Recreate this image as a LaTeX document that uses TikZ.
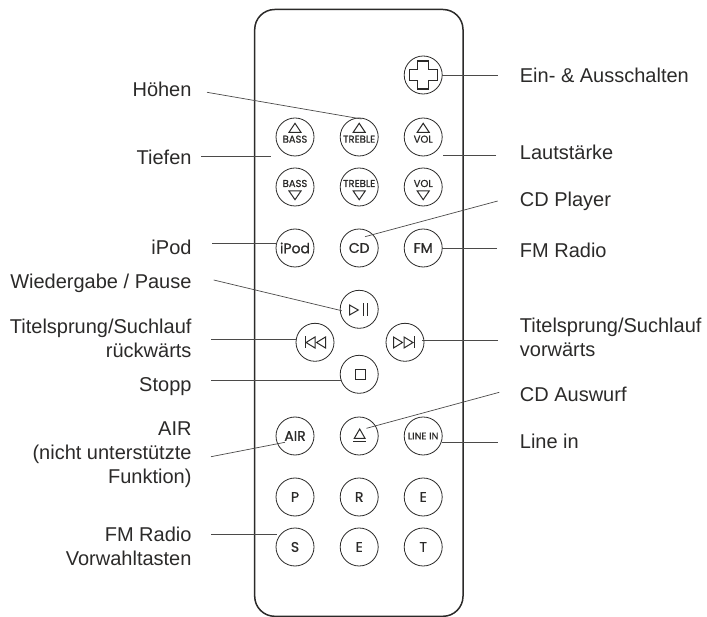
\documentclass[tikz,border=0pt]{standalone}
\usepackage{fontspec}
\setmainfont{Liberation Sans}
\newfontfamily\btnfont[FakeBold=0.8]{Poppins}
\usetikzlibrary{calc}
\definecolor{ink}{HTML}{2B2A29}
\tikzset{
  body/.style={draw=ink,line width=1.5pt,rounded corners=20pt},
  btn/.style={circle,draw=ink,line width=0.8pt,minimum size=38pt,inner sep=0pt,font=\btnfont\fontsize{14}{15}\selectfont,text=ink,align=center},
  smallbtn/.style={btn,font=\btnfont\fontsize{9.8}{10}\selectfont},
  btncap/.style={font=\btnfont\fontsize{10}{10}\selectfont,text=ink,inner sep=0pt,anchor=base},
  lbl/.style={font=\fontsize{20}{24}\selectfont,text=ink,inner sep=0pt,yshift=-2.5pt},
  lblr/.style={lbl,align=right,anchor=north east},
  lbll/.style={lbl,align=left,anchor=north west},
  lead/.style={draw=ink!85,line width=0.7pt},
  icon/.style={draw=ink,line width=1pt,line join=miter}
}
\begin{document}
\begin{tikzpicture}[x=1pt,y=-1pt]
\useasboundingbox (0,0) rectangle (707,617);
\draw[body] (254.7,9.5) rectangle (463,616.3);
% buttons
\node[btn] (power) at (423.2,75) {};
\node[btn] (bassup) at (295,137) {};
\node[btn] (trebup) at (359.2,137) {};
\node[btn] (volup) at (423.2,137) {};
\node[btn] (bassdn) at (295,187) {};
\node[btn] (trebdn) at (359.2,187) {};
\node[btn] (voldn) at (423.2,187) {};
\node[btn] (ipod) at (295,248) {iPod};
\node[btn] (cd) at (359.2,248) {CD};
\node[btn] (fm) at (423.2,248) {FM};
\node[btn] (play) at (359.2,309.3) {};
\node[btn] (prev) at (315,342.3) {};
\node[btn] (next) at (405,342.3) {};
\node[btn] (stop) at (359.2,374.3) {};
\node[btn] (air) at (295,436) {AIR};
\node[btn] (eject) at (359.2,436) {};
\node[smallbtn] (linein) at (423.2,436) {LINE IN};
\node[btn] (p) at (295,497) {P};
\node[btn] (r) at (359.2,497) {R};
\node[btn] (e) at (423.2,497) {E};
\node[btn] (s) at (295,547) {S};
\node[btn] (e2) at (359.2,547) {E};
\node[btn] (t) at (423.2,547) {T};
% button texts with triangles
\foreach \n/\t in {bassup/BASS,trebup/TREBLE,volup/VOL}{
  \node[btncap] at ($(\n)+(0,5.7)$) {\t};
  \draw[icon] ($(\n)+(-6,-4.7)$) -- ($(\n)+(6,-4.7)$) -- ($(\n)+(0,-13.7)$) -- cycle;
}
\foreach \n/\t in {bassdn/BASS,trebdn/TREBLE,voldn/VOL}{
  \node[btncap] at ($(\n)+(0,0)$) {\t};
  \draw[icon] ($(\n)+(-6,4)$) -- ($(\n)+(6,4)$) -- ($(\n)+(0,12.7)$) -- cycle;
}
% icons
\draw[icon,line width=1.1pt] ($(power)+(-14,-5.3)$) -- ++(8.7,0) -- ++(0,-8.7) -- ++(10.6,0) -- ++(0,8.7) -- ++(8.7,0) -- ++(0,10.6) -- ++(-8.7,0) -- ++(0,8.7) -- ++(-10.6,0) -- ++(0,-8.7) -- ++(-8.7,0) -- cycle;
\draw[icon] (349.5,305) -- (349.5,315) -- (358.3,310) -- cycle;
\draw[icon] (363.3,303.5) -- (363.3,315.7) (367.3,303.5) -- (367.3,315.7);
\draw[icon] (305,336.5) -- (305,348.5);
\draw[icon] (315,337) -- (315,348) -- (306,342.5) -- cycle;
\draw[icon] (325.5,337) -- (325.5,348) -- (316.5,342.5) -- cycle;
\draw[icon] (414.5,336.5) -- (414.5,348.5);
\draw[icon] (393.5,337) -- (393.5,348) -- (402.5,342.5) -- cycle;
\draw[icon] (404,337) -- (404,348) -- (413,342.5) -- cycle;
\draw[icon] (355,369.5) rectangle (365,379.5);
\draw[icon] (354.3,438.3) -- (365,438.3) -- (359.7,429) -- cycle;
\draw[icon] (353.3,441.7) -- (366,441.7);
% labels (y = top of the first line box)
\node[lblr] (lhoehen) at (191.7,79.5) {Höhen};
\node[lblr] (ltiefen) at (191.7,147.8) {Tiefen};
\node[lblr] (lipod) at (191.7,237.8) {iPod};
\node[lblr] (lwieder) at (191.7,271.8) {Wiedergabe / Pause};
\node[lblr] (lprev) at (191.7,316) {Titelsprung/Suchlauf\\rückwärts};
\node[lblr] (lstopp) at (191.7,374.5) {Stopp};
\node[lblr] (lair) at (191.7,418.8) {AIR\\(nicht unterstützte\\Funktion)};
\node[lblr] (lfm) at (191.7,524.8) {FM Radio\\Vorwahltasten};
\node[lbll] (lein) at (519.7,65.5) {Ein- \& Ausschalten};
\node[lbll] (llaut) at (519.7,142.8) {Lautstärke};
\node[lbll] (lcd) at (519.7,189.5) {CD Player};
\node[lbll] (lfmr) at (519.7,240.1) {FM Radio};
\node[lbll] (lnext) at (519.7,315.5) {Titelsprung/Suchlauf\\vorwärts};
\node[lbll] (lausw) at (519.7,384.5) {CD Auswurf};
\node[lbll] (lline) at (519.7,431.1) {Line in};
% leader free ends
\coordinate (a1) at (207,92.3);   \coordinate (b1) at (361.5,119);
\coordinate (a2) at (201,156.7);  \coordinate (b2) at (270.7,156.7);
\coordinate (a3) at (212,243.3);  \coordinate (b3) at (276.6,243.3);
\coordinate (a4) at (213.7,280);  \coordinate (b4) at (341.7,310.7);
\coordinate (a5) at (211,339);    \coordinate (b5) at (296.7,339);
\coordinate (a6) at (211,380.3);  \coordinate (b6) at (342,380.3);
\coordinate (a7) at (211,456.7);  \coordinate (b7) at (285,442.3);
\coordinate (a8) at (211,534.2);  \coordinate (b8) at (276.7,534.2);
\coordinate (c1) at (497.7,75);   \coordinate (d1) at (441.7,75);
\coordinate (c2) at (496,155.7);  \coordinate (d2) at (443,155.7);
\coordinate (c3) at (497.7,201);  \coordinate (d3) at (365,236.7);
\coordinate (c4) at (497,248.3);  \coordinate (d4) at (442,248.3);
\coordinate (c5) at (498,340.3);  \coordinate (d5) at (421.7,340.3);
\coordinate (c6) at (499.3,392.3);\coordinate (d6) at (366.5,428.3);
\coordinate (c7) at (497.5,442.3);\coordinate (d7) at (441.7,442.3);
\foreach \i in {1,...,8}{\draw[lead] (a\i) -- (b\i);}
\foreach \i in {1,...,7}{\draw[lead] (c\i) -- (d\i);}
\end{tikzpicture}
\end{document}
